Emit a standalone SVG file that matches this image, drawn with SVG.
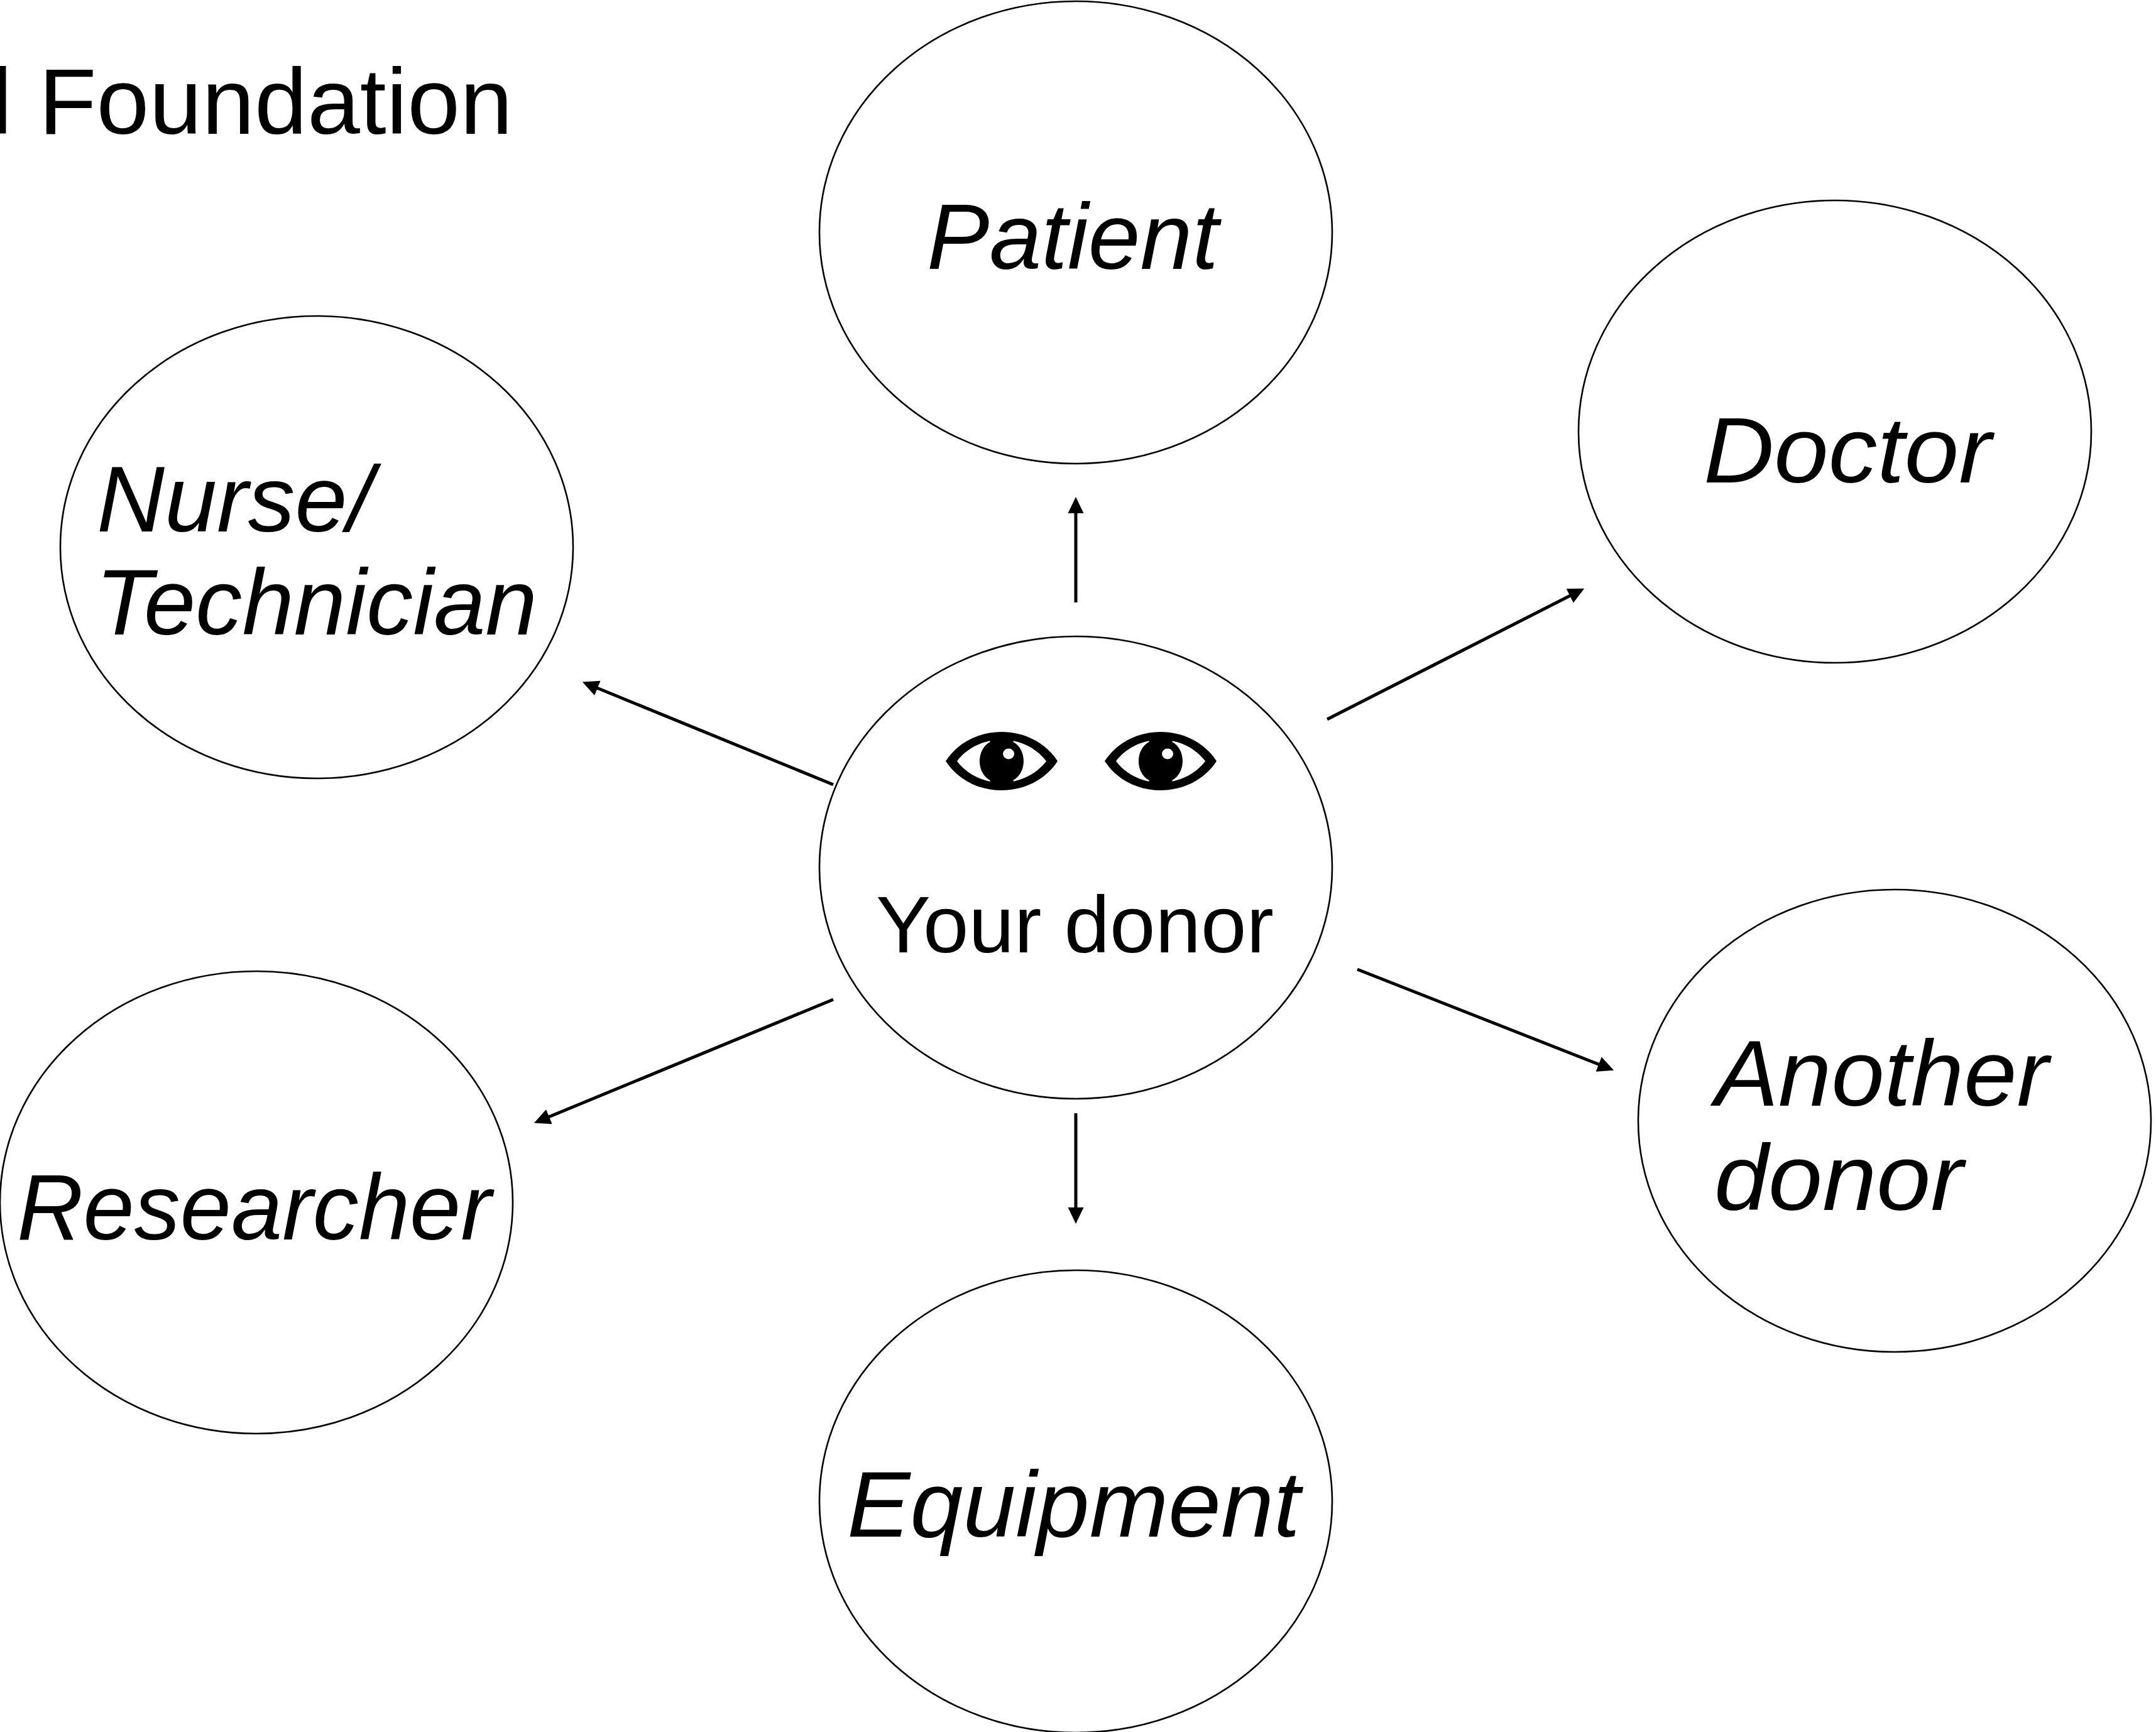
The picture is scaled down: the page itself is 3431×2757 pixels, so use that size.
<svg xmlns="http://www.w3.org/2000/svg" width="3431" height="2757" viewBox="0 0 3431 2757">
<style>
.n{fill:#fff;stroke:#000;stroke-width:2.6}
.c{fill:none;stroke:#000;stroke-width:5;marker-end:url(#a)}
text{font-family:"Liberation Sans",Arial,Helvetica,sans-serif;fill:#000}
.i{font-style:italic;font-size:149px}
</style>
<defs>
<marker id="a" markerUnits="userSpaceOnUse" markerWidth="30" markerHeight="30" refX="1" refY="15" orient="auto"><path d="M0 2.500L26 15L0 27.500Z"/></marker>
<symbol id="eye" viewBox="0 0 169 93" preserveAspectRatio="none" overflow="visible">
<path fill-rule="evenodd" d="M0 46.500C38 -15.500 131 -15.500 169 46.500C131 108.500 38 108.500 0 46.500ZM17 46.500C50 92 119 92 152 46.500C119 1 50 1 17 46.500Z"/>
<path d="M67 5V16C46 28 46 65 67 77V88H102V77C123 65 123 28 102 16V5Z"/>
<circle cx="95" cy="35" r="8.500" fill="#fff"/>
</symbol>
</defs>
<rect width="3431" height="2757" fill="#fff"/>
<text x="-14" y="213" font-size="149" textLength="830" lengthAdjust="spacingAndGlyphs">l Foundation</text>
<g id="connectors">
<path class="c" d="M1712 959V816"/>
<path class="c" d="M1712 1772V1923"/>
<path class="c" d="M2112 1145L2499 948"/>
<path class="c" d="M1326 1249L950 1095"/>
<path class="c" d="M2160 1543L2545 1694.500"/>
<path class="c" d="M1326 1591L873 1778"/>
</g>
<g id="patient"><ellipse class="n" cx="1712" cy="370" rx="408" ry="368"/><text class="i" x="1475" y="428">Patient</text></g>
<g id="doctor"><ellipse class="n" cx="2920" cy="687" rx="408" ry="368"/><text class="i" x="2711" y="768" textLength="458" lengthAdjust="spacingAndGlyphs">Doctor</text></g>
<g id="nurse"><ellipse class="n" cx="504" cy="871" rx="408" ry="368"/><text class="i" x="154" y="846" textLength="440" lengthAdjust="spacingAndGlyphs">Nurse/</text><text class="i" x="152" y="1010" textLength="703" lengthAdjust="spacingAndGlyphs">Technician</text></g>
<g id="donor"><ellipse class="n" cx="1712" cy="1381" rx="408" ry="368"/>
<use href="#eye" x="1505" y="1165" width="178" height="93"/><use href="#eye" x="1758" y="1165" width="178" height="93"/>
<text x="1394" y="1516" font-size="128" textLength="633" lengthAdjust="spacingAndGlyphs">Your donor</text></g>
<g id="another"><ellipse class="n" cx="3015" cy="1784" rx="408" ry="368"/><text class="i" x="2729" y="1760" textLength="531" lengthAdjust="spacingAndGlyphs">Another</text><text class="i" x="2728" y="1926" textLength="396" lengthAdjust="spacingAndGlyphs">donor</text></g>
<g id="researcher"><ellipse class="n" cx="408" cy="1914" rx="408" ry="368"/><text class="i" x="27" y="1973" textLength="755" lengthAdjust="spacingAndGlyphs">Researcher</text></g>
<g id="equipment"><ellipse class="n" cx="1712" cy="2390" rx="408" ry="368"/><text class="i" x="1348" y="2446" textLength="721" lengthAdjust="spacingAndGlyphs">Equipment</text></g>
</svg>
